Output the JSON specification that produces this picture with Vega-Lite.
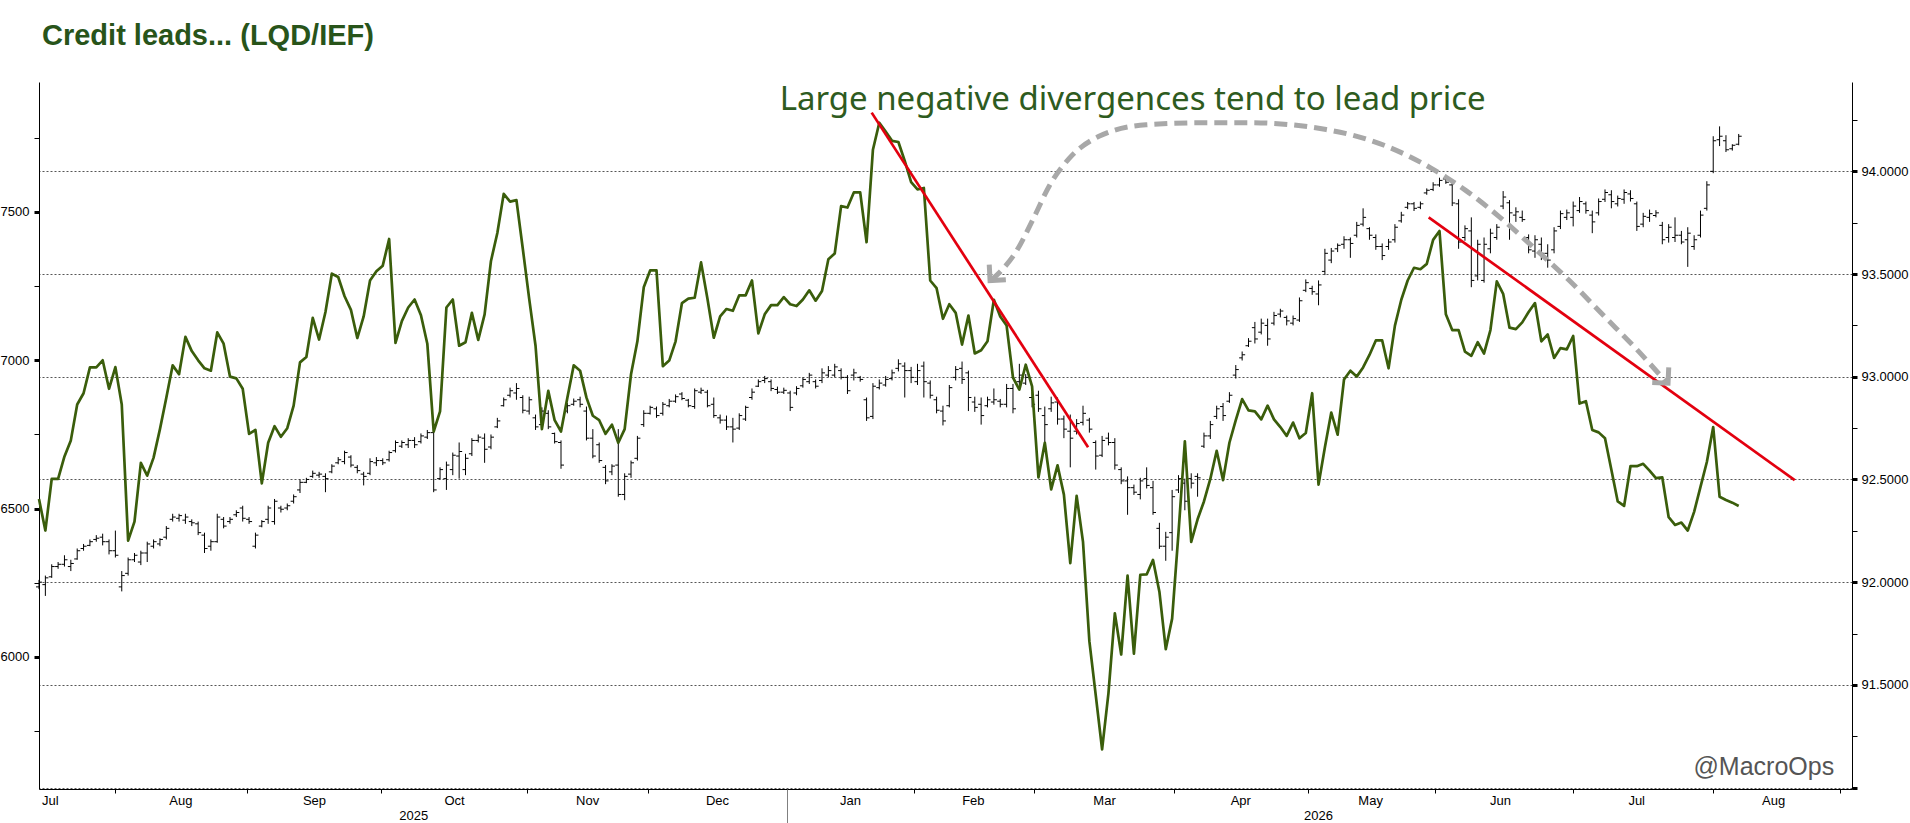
{
  "$schema": "https://vega.github.io/schema/vega-lite/v6.json",
  "autosize": {"type": "none"},
  "width": 1813,
  "height": 707,
  "padding": {"left": 39, "top": 82, "right": 58, "bottom": 34},
  "background": "white",
  "title": {
    "text": "Credit leads... (LQD/IEF)",
    "anchor": "start",
    "frame": "group",
    "font": "Liberation Sans",
    "fontSize": 29,
    "fontWeight": "bold",
    "color": "#28541a",
    "baseline": "alphabetic",
    "offset": 8,
    "dx": 3
  },
  "config": {
    "view": {"stroke": null},
    "axis": {
      "labelFont": "Liberation Sans",
      "labelFontSize": 13,
      "labelColor": "#000000",
      "domainColor": "#000000",
      "tickColor": "#000000",
      "labelOverlap": false
    }
  },
  "datasets": {
    "d": [
      {"t":0,"spx":6532,"o":91.977,"h":92.011,"l":91.966,"c":92.000},
      {"t":1,"spx":6426,"o":91.988,"h":92.032,"l":91.933,"c":92.021},
      {"t":2,"spx":6600,"o":92.026,"h":92.087,"l":92.021,"c":92.076},
      {"t":3,"spx":6600,"o":92.076,"h":92.098,"l":92.065,"c":92.087},
      {"t":4,"spx":6676,"o":92.087,"h":92.131,"l":92.076,"c":92.109},
      {"t":5,"spx":6730,"o":92.076,"h":92.109,"l":92.054,"c":92.091},
      {"t":6,"spx":6851,"o":92.113,"h":92.164,"l":92.109,"c":92.153},
      {"t":7,"spx":6889,"o":92.164,"h":92.186,"l":92.153,"c":92.175},
      {"t":8,"spx":6976,"o":92.179,"h":92.208,"l":92.175,"c":92.197},
      {"t":9,"spx":6976,"o":92.208,"h":92.229,"l":92.197,"c":92.214},
      {"t":10,"spx":7000,"o":92.219,"h":92.236,"l":92.179,"c":92.197},
      {"t":11,"spx":6904,"o":92.197,"h":92.208,"l":92.135,"c":92.153},
      {"t":12,"spx":6977,"o":92.153,"h":92.251,"l":92.120,"c":92.131},
      {"t":13,"spx":6851,"o":91.977,"h":92.054,"l":91.955,"c":92.032},
      {"t":14,"spx":6392,"o":92.043,"h":92.120,"l":92.032,"c":92.109},
      {"t":15,"spx":6456,"o":92.109,"h":92.142,"l":92.098,"c":92.131},
      {"t":16,"spx":6654,"o":92.098,"h":92.153,"l":92.083,"c":92.142},
      {"t":17,"spx":6611,"o":92.142,"h":92.197,"l":92.098,"c":92.186},
      {"t":18,"spx":6672,"o":92.175,"h":92.208,"l":92.164,"c":92.197},
      {"t":19,"spx":6768,"o":92.186,"h":92.214,"l":92.175,"c":92.208},
      {"t":20,"spx":6874,"o":92.219,"h":92.273,"l":92.208,"c":92.262},
      {"t":21,"spx":6983,"o":92.306,"h":92.333,"l":92.295,"c":92.317},
      {"t":22,"spx":6953,"o":92.311,"h":92.333,"l":92.295,"c":92.324},
      {"t":23,"spx":7079,"o":92.302,"h":92.333,"l":92.284,"c":92.317},
      {"t":24,"spx":7031,"o":92.295,"h":92.306,"l":92.273,"c":92.289},
      {"t":25,"spx":7000,"o":92.284,"h":92.295,"l":92.229,"c":92.241},
      {"t":26,"spx":6973,"o":92.229,"h":92.241,"l":92.142,"c":92.164},
      {"t":27,"spx":6965,"o":92.175,"h":92.208,"l":92.153,"c":92.197},
      {"t":28,"spx":7094,"o":92.197,"h":92.333,"l":92.192,"c":92.317},
      {"t":29,"spx":7056,"o":92.306,"h":92.317,"l":92.262,"c":92.273},
      {"t":30,"spx":6945,"o":92.295,"h":92.317,"l":92.284,"c":92.306},
      {"t":31,"spx":6939,"o":92.328,"h":92.350,"l":92.317,"c":92.339},
      {"t":32,"spx":6904,"o":92.361,"h":92.372,"l":92.295,"c":92.311},
      {"t":33,"spx":6752,"o":92.306,"h":92.317,"l":92.284,"c":92.295},
      {"t":34,"spx":6765,"o":92.175,"h":92.241,"l":92.164,"c":92.229},
      {"t":35,"spx":6585,"o":92.273,"h":92.302,"l":92.267,"c":92.295},
      {"t":36,"spx":6722,"o":92.306,"h":92.372,"l":92.284,"c":92.361},
      {"t":37,"spx":6778,"o":92.295,"h":92.405,"l":92.280,"c":92.394},
      {"t":38,"spx":6742,"o":92.361,"h":92.372,"l":92.339,"c":92.355},
      {"t":39,"spx":6771,"o":92.361,"h":92.383,"l":92.350,"c":92.372},
      {"t":40,"spx":6847,"o":92.394,"h":92.427,"l":92.383,"c":92.416},
      {"t":41,"spx":6993,"o":92.449,"h":92.500,"l":92.434,"c":92.486},
      {"t":42,"spx":7011,"o":92.486,"h":92.508,"l":92.482,"c":92.500},
      {"t":43,"spx":7143,"o":92.515,"h":92.543,"l":92.508,"c":92.530},
      {"t":44,"spx":7070,"o":92.521,"h":92.537,"l":92.508,"c":92.526},
      {"t":45,"spx":7163,"o":92.515,"h":92.530,"l":92.438,"c":92.504},
      {"t":46,"spx":7292,"o":92.537,"h":92.574,"l":92.530,"c":92.565},
      {"t":47,"spx":7281,"o":92.581,"h":92.609,"l":92.574,"c":92.596},
      {"t":48,"spx":7216,"o":92.587,"h":92.640,"l":92.574,"c":92.631},
      {"t":49,"spx":7170,"o":92.609,"h":92.618,"l":92.559,"c":92.570},
      {"t":50,"spx":7075,"o":92.559,"h":92.570,"l":92.530,"c":92.543},
      {"t":51,"spx":7148,"o":92.526,"h":92.537,"l":92.471,"c":92.515},
      {"t":52,"spx":7269,"o":92.530,"h":92.603,"l":92.521,"c":92.587},
      {"t":53,"spx":7300,"o":92.581,"h":92.609,"l":92.565,"c":92.592},
      {"t":54,"spx":7319,"o":92.592,"h":92.603,"l":92.570,"c":92.581},
      {"t":55,"spx":7409,"o":92.596,"h":92.640,"l":92.587,"c":92.631},
      {"t":56,"spx":7059,"o":92.640,"h":92.690,"l":92.631,"c":92.680},
      {"t":57,"spx":7132,"o":92.662,"h":92.690,"l":92.653,"c":92.680},
      {"t":58,"spx":7178,"o":92.669,"h":92.701,"l":92.653,"c":92.690},
      {"t":59,"spx":7205,"o":92.690,"h":92.706,"l":92.653,"c":92.669},
      {"t":60,"spx":7152,"o":92.684,"h":92.724,"l":92.675,"c":92.712},
      {"t":61,"spx":7056,"o":92.706,"h":92.741,"l":92.697,"c":92.728},
      {"t":62,"spx":6760,"o":92.728,"h":92.735,"l":92.438,"c":92.449},
      {"t":63,"spx":6828,"o":92.504,"h":92.559,"l":92.500,"c":92.548},
      {"t":64,"spx":7178,"o":92.504,"h":92.587,"l":92.449,"c":92.570},
      {"t":65,"spx":7205,"o":92.548,"h":92.631,"l":92.521,"c":92.618},
      {"t":66,"spx":7049,"o":92.614,"h":92.680,"l":92.504,"c":92.636},
      {"t":67,"spx":7061,"o":92.548,"h":92.625,"l":92.521,"c":92.603},
      {"t":68,"spx":7160,"o":92.625,"h":92.701,"l":92.614,"c":92.690},
      {"t":69,"spx":7069,"o":92.690,"h":92.719,"l":92.680,"c":92.706},
      {"t":70,"spx":7155,"o":92.701,"h":92.724,"l":92.581,"c":92.647},
      {"t":71,"spx":7335,"o":92.658,"h":92.719,"l":92.647,"c":92.706},
      {"t":72,"spx":7429,"o":92.756,"h":92.800,"l":92.750,"c":92.785},
      {"t":73,"spx":7561,"o":92.859,"h":92.899,"l":92.855,"c":92.888},
      {"t":74,"spx":7535,"o":92.910,"h":92.947,"l":92.899,"c":92.932},
      {"t":75,"spx":7540,"o":92.921,"h":92.969,"l":92.888,"c":92.943},
      {"t":76,"spx":7376,"o":92.899,"h":92.910,"l":92.822,"c":92.837},
      {"t":77,"spx":7208,"o":92.833,"h":92.903,"l":92.816,"c":92.888},
      {"t":78,"spx":7049,"o":92.800,"h":92.816,"l":92.741,"c":92.756},
      {"t":79,"spx":6768,"o":92.767,"h":92.851,"l":92.756,"c":92.833},
      {"t":80,"spx":6897,"o":92.822,"h":92.837,"l":92.745,"c":92.756},
      {"t":81,"spx":6798,"o":92.724,"h":92.728,"l":92.675,"c":92.684},
      {"t":82,"spx":6760,"o":92.680,"h":92.690,"l":92.552,"c":92.570},
      {"t":83,"spx":6874,"o":92.833,"h":92.872,"l":92.822,"c":92.859},
      {"t":84,"spx":6983,"o":92.866,"h":92.894,"l":92.859,"c":92.881},
      {"t":85,"spx":6965,"o":92.888,"h":92.903,"l":92.851,"c":92.866},
      {"t":86,"spx":6874,"o":92.833,"h":92.855,"l":92.690,"c":92.701},
      {"t":87,"spx":6813,"o":92.701,"h":92.745,"l":92.603,"c":92.614},
      {"t":88,"spx":6798,"o":92.669,"h":92.680,"l":92.581,"c":92.592},
      {"t":89,"spx":6752,"o":92.559,"h":92.570,"l":92.477,"c":92.493},
      {"t":90,"spx":6783,"o":92.537,"h":92.574,"l":92.521,"c":92.565},
      {"t":91,"spx":6722,"o":92.570,"h":92.745,"l":92.416,"c":92.427},
      {"t":92,"spx":6768,"o":92.427,"h":92.530,"l":92.399,"c":92.515},
      {"t":93,"spx":6953,"o":92.526,"h":92.592,"l":92.508,"c":92.581},
      {"t":94,"spx":7064,"o":92.603,"h":92.712,"l":92.592,"c":92.701},
      {"t":95,"spx":7246,"o":92.767,"h":92.837,"l":92.756,"c":92.822},
      {"t":96,"spx":7303,"o":92.822,"h":92.859,"l":92.816,"c":92.851},
      {"t":97,"spx":7303,"o":92.844,"h":92.855,"l":92.800,"c":92.811},
      {"t":98,"spx":6980,"o":92.822,"h":92.877,"l":92.811,"c":92.866},
      {"t":99,"spx":6999,"o":92.859,"h":92.892,"l":92.851,"c":92.881},
      {"t":100,"spx":7064,"o":92.881,"h":92.914,"l":92.873,"c":92.903},
      {"t":101,"spx":7193,"o":92.916,"h":92.925,"l":92.886,"c":92.894},
      {"t":102,"spx":7208,"o":92.886,"h":92.892,"l":92.851,"c":92.859},
      {"t":103,"spx":7211,"o":92.855,"h":92.943,"l":92.844,"c":92.932},
      {"t":104,"spx":7330,"o":92.925,"h":92.947,"l":92.916,"c":92.934},
      {"t":105,"spx":7208,"o":92.925,"h":92.936,"l":92.851,"c":92.859},
      {"t":106,"spx":7076,"o":92.866,"h":92.899,"l":92.800,"c":92.811},
      {"t":107,"spx":7148,"o":92.800,"h":92.816,"l":92.772,"c":92.789},
      {"t":108,"spx":7173,"o":92.789,"h":92.811,"l":92.741,"c":92.756},
      {"t":109,"spx":7167,"o":92.756,"h":92.800,"l":92.680,"c":92.745},
      {"t":110,"spx":7219,"o":92.750,"h":92.822,"l":92.741,"c":92.811},
      {"t":111,"spx":7219,"o":92.794,"h":92.859,"l":92.785,"c":92.851},
      {"t":112,"spx":7269,"o":92.899,"h":92.943,"l":92.888,"c":92.925},
      {"t":113,"spx":7091,"o":92.954,"h":92.987,"l":92.950,"c":92.976},
      {"t":114,"spx":7155,"o":92.982,"h":93.004,"l":92.969,"c":92.991},
      {"t":115,"spx":7186,"o":92.976,"h":92.987,"l":92.930,"c":92.943},
      {"t":116,"spx":7186,"o":92.938,"h":92.952,"l":92.916,"c":92.925},
      {"t":117,"spx":7213,"o":92.925,"h":92.947,"l":92.916,"c":92.934},
      {"t":118,"spx":7189,"o":92.921,"h":92.932,"l":92.833,"c":92.851},
      {"t":119,"spx":7183,"o":92.921,"h":92.954,"l":92.910,"c":92.943},
      {"t":120,"spx":7205,"o":92.956,"h":92.997,"l":92.947,"c":92.987},
      {"t":121,"spx":7236,"o":92.976,"h":93.019,"l":92.965,"c":93.008},
      {"t":122,"spx":7201,"o":92.976,"h":92.987,"l":92.943,"c":92.954},
      {"t":123,"spx":7234,"o":92.982,"h":93.041,"l":92.969,"c":93.019},
      {"t":124,"spx":7341,"o":93.008,"h":93.052,"l":92.997,"c":93.030},
      {"t":125,"spx":7360,"o":93.008,"h":93.063,"l":92.997,"c":93.048},
      {"t":126,"spx":7520,"o":93.030,"h":93.041,"l":92.987,"c":92.997},
      {"t":127,"spx":7515,"o":92.997,"h":93.008,"l":92.916,"c":92.932},
      {"t":128,"spx":7566,"o":93.008,"h":93.039,"l":92.982,"c":93.019},
      {"t":129,"spx":7566,"o":92.997,"h":93.004,"l":92.976,"c":92.987},
      {"t":130,"spx":7398,"o":92.888,"h":92.899,"l":92.785,"c":92.800},
      {"t":131,"spx":7710,"o":92.807,"h":92.969,"l":92.794,"c":92.954},
      {"t":132,"spx":7801,"o":92.947,"h":92.987,"l":92.938,"c":92.969},
      {"t":133,"spx":7771,"o":92.960,"h":93.004,"l":92.952,"c":92.987},
      {"t":134,"spx":7740,"o":92.991,"h":93.035,"l":92.982,"c":93.019},
      {"t":135,"spx":7736,"o":93.041,"h":93.085,"l":93.026,"c":93.063},
      {"t":136,"spx":7672,"o":93.052,"h":93.070,"l":92.899,"c":93.030},
      {"t":137,"spx":7601,"o":93.030,"h":93.048,"l":92.969,"c":92.997},
      {"t":138,"spx":7576,"o":92.976,"h":93.063,"l":92.960,"c":93.030},
      {"t":139,"spx":7581,"o":93.052,"h":93.074,"l":92.899,"c":92.976},
      {"t":140,"spx":7269,"o":92.969,"h":92.982,"l":92.894,"c":92.910},
      {"t":141,"spx":7243,"o":92.888,"h":92.903,"l":92.822,"c":92.837},
      {"t":142,"spx":7140,"o":92.833,"h":92.859,"l":92.763,"c":92.785},
      {"t":143,"spx":7189,"o":92.859,"h":92.960,"l":92.851,"c":92.947},
      {"t":144,"spx":7160,"o":92.997,"h":93.052,"l":92.982,"c":93.035},
      {"t":145,"spx":7053,"o":93.041,"h":93.074,"l":92.965,"c":92.987},
      {"t":146,"spx":7151,"o":93.019,"h":93.030,"l":92.833,"c":92.899},
      {"t":147,"spx":7023,"o":92.877,"h":92.903,"l":92.829,"c":92.851},
      {"t":148,"spx":7034,"o":92.866,"h":92.899,"l":92.767,"c":92.811},
      {"t":149,"spx":7064,"o":92.859,"h":92.903,"l":92.851,"c":92.888},
      {"t":150,"spx":7204,"o":92.877,"h":92.943,"l":92.864,"c":92.888},
      {"t":151,"spx":7148,"o":92.881,"h":92.892,"l":92.851,"c":92.866},
      {"t":152,"spx":7117,"o":92.866,"h":92.965,"l":92.851,"c":92.943},
      {"t":153,"spx":6942,"o":92.943,"h":92.965,"l":92.822,"c":92.844},
      {"t":154,"spx":6901,"o":92.976,"h":93.063,"l":92.960,"c":93.008},
      {"t":155,"spx":6985,"o":92.969,"h":93.013,"l":92.960,"c":92.997},
      {"t":156,"spx":6912,"o":92.899,"h":92.925,"l":92.851,"c":92.866},
      {"t":157,"spx":6605,"o":92.910,"h":92.932,"l":92.829,"c":92.844},
      {"t":158,"spx":6722,"o":92.811,"h":92.855,"l":92.680,"c":92.767},
      {"t":159,"spx":6565,"o":92.844,"h":92.903,"l":92.829,"c":92.873},
      {"t":160,"spx":6646,"o":92.877,"h":92.899,"l":92.767,"c":92.794},
      {"t":161,"spx":6547,"o":92.794,"h":92.811,"l":92.701,"c":92.745},
      {"t":162,"spx":6316,"o":92.735,"h":92.816,"l":92.559,"c":92.701},
      {"t":163,"spx":6543,"o":92.735,"h":92.794,"l":92.719,"c":92.772},
      {"t":164,"spx":6388,"o":92.778,"h":92.859,"l":92.763,"c":92.822},
      {"t":165,"spx":6053,"o":92.789,"h":92.800,"l":92.728,"c":92.745},
      {"t":166,"spx":5871,"o":92.680,"h":92.690,"l":92.548,"c":92.614},
      {"t":167,"spx":5688,"o":92.618,"h":92.712,"l":92.609,"c":92.690},
      {"t":168,"spx":5878,"o":92.701,"h":92.728,"l":92.666,"c":92.680},
      {"t":169,"spx":6147,"o":92.680,"h":92.701,"l":92.548,"c":92.570},
      {"t":170,"spx":6008,"o":92.548,"h":92.559,"l":92.477,"c":92.493},
      {"t":171,"spx":6274,"o":92.493,"h":92.515,"l":92.328,"c":92.460},
      {"t":172,"spx":6011,"o":92.460,"h":92.475,"l":92.425,"c":92.438},
      {"t":173,"spx":6277,"o":92.427,"h":92.508,"l":92.403,"c":92.493},
      {"t":174,"spx":6278,"o":92.504,"h":92.559,"l":92.456,"c":92.471},
      {"t":175,"spx":6327,"o":92.460,"h":92.493,"l":92.328,"c":92.339},
      {"t":176,"spx":6220,"o":92.262,"h":92.289,"l":92.162,"c":92.175},
      {"t":177,"spx":6026,"o":92.175,"h":92.245,"l":92.104,"c":92.219},
      {"t":178,"spx":6129,"o":92.241,"h":92.449,"l":92.153,"c":92.416},
      {"t":179,"spx":6418,"o":92.449,"h":92.521,"l":92.434,"c":92.504},
      {"t":180,"spx":6727,"o":92.482,"h":92.504,"l":92.350,"c":92.394},
      {"t":181,"spx":6388,"o":92.504,"h":92.530,"l":92.456,"c":92.482},
      {"t":182,"spx":6464,"o":92.515,"h":92.530,"l":92.416,"c":92.508},
      {"t":183,"spx":6524,"o":92.662,"h":92.728,"l":92.653,"c":92.712},
      {"t":184,"spx":6600,"o":92.712,"h":92.785,"l":92.697,"c":92.767},
      {"t":185,"spx":6695,"o":92.807,"h":92.859,"l":92.794,"c":92.844},
      {"t":186,"spx":6596,"o":92.855,"h":92.872,"l":92.785,"c":92.811},
      {"t":187,"spx":6722,"o":92.881,"h":92.925,"l":92.873,"c":92.910},
      {"t":188,"spx":6798,"o":93.008,"h":93.057,"l":92.991,"c":93.035},
      {"t":189,"spx":6869,"o":93.092,"h":93.123,"l":93.079,"c":93.107},
      {"t":190,"spx":6831,"o":93.151,"h":93.188,"l":93.145,"c":93.173},
      {"t":191,"spx":6828,"o":93.239,"h":93.267,"l":93.162,"c":93.184},
      {"t":192,"spx":6801,"o":93.217,"h":93.283,"l":93.206,"c":93.261},
      {"t":193,"spx":6847,"o":93.250,"h":93.283,"l":93.151,"c":93.184},
      {"t":194,"spx":6801,"o":93.261,"h":93.316,"l":93.250,"c":93.298},
      {"t":195,"spx":6775,"o":93.305,"h":93.331,"l":93.289,"c":93.320},
      {"t":196,"spx":6745,"o":93.289,"h":93.298,"l":93.250,"c":93.272},
      {"t":197,"spx":6790,"o":93.261,"h":93.298,"l":93.250,"c":93.283},
      {"t":198,"spx":6737,"o":93.276,"h":93.386,"l":93.267,"c":93.370},
      {"t":199,"spx":6755,"o":93.421,"h":93.474,"l":93.412,"c":93.458},
      {"t":200,"spx":6889,"o":93.430,"h":93.443,"l":93.399,"c":93.414},
      {"t":201,"spx":6581,"o":93.403,"h":93.469,"l":93.348,"c":93.447},
      {"t":202,"spx":6707,"o":93.513,"h":93.623,"l":93.495,"c":93.601},
      {"t":203,"spx":6824,"o":93.568,"h":93.627,"l":93.553,"c":93.612},
      {"t":204,"spx":6749,"o":93.623,"h":93.649,"l":93.607,"c":93.640},
      {"t":205,"spx":6935,"o":93.645,"h":93.684,"l":93.623,"c":93.667},
      {"t":206,"spx":6965,"o":93.667,"h":93.678,"l":93.579,"c":93.649},
      {"t":207,"spx":6945,"o":93.689,"h":93.754,"l":93.678,"c":93.737},
      {"t":208,"spx":6976,"o":93.743,"h":93.820,"l":93.732,"c":93.776},
      {"t":209,"spx":7018,"o":93.721,"h":93.728,"l":93.667,"c":93.689},
      {"t":210,"spx":7067,"o":93.678,"h":93.693,"l":93.618,"c":93.634},
      {"t":211,"spx":7067,"o":93.634,"h":93.649,"l":93.568,"c":93.590},
      {"t":212,"spx":6973,"o":93.634,"h":93.671,"l":93.618,"c":93.656},
      {"t":213,"spx":7117,"o":93.667,"h":93.743,"l":93.653,"c":93.728},
      {"t":214,"spx":7204,"o":93.759,"h":93.803,"l":93.750,"c":93.787},
      {"t":215,"spx":7269,"o":93.825,"h":93.851,"l":93.816,"c":93.842},
      {"t":216,"spx":7312,"o":93.842,"h":93.851,"l":93.807,"c":93.820},
      {"t":217,"spx":7307,"o":93.825,"h":93.853,"l":93.816,"c":93.842},
      {"t":218,"spx":7325,"o":93.895,"h":93.917,"l":93.886,"c":93.908},
      {"t":219,"spx":7406,"o":93.912,"h":93.947,"l":93.904,"c":93.934},
      {"t":220,"spx":7436,"o":93.934,"h":93.969,"l":93.925,"c":93.956},
      {"t":221,"spx":7155,"o":93.963,"h":93.983,"l":93.939,"c":93.947},
      {"t":222,"spx":7102,"o":93.934,"h":93.947,"l":93.831,"c":93.846},
      {"t":223,"spx":7102,"o":93.842,"h":93.864,"l":93.623,"c":93.656},
      {"t":224,"spx":7029,"o":93.678,"h":93.737,"l":93.662,"c":93.721},
      {"t":225,"spx":7015,"o":93.710,"h":93.776,"l":93.436,"c":93.469},
      {"t":226,"spx":7061,"o":93.491,"h":93.667,"l":93.469,"c":93.645},
      {"t":227,"spx":7023,"o":93.469,"h":93.678,"l":93.458,"c":93.645},
      {"t":228,"spx":7102,"o":93.623,"h":93.721,"l":93.601,"c":93.699},
      {"t":229,"spx":7266,"o":93.678,"h":93.743,"l":93.667,"c":93.728},
      {"t":230,"spx":7224,"o":93.831,"h":93.904,"l":93.816,"c":93.875},
      {"t":231,"spx":7110,"o":93.847,"h":93.860,"l":93.667,"c":93.798},
      {"t":232,"spx":7105,"o":93.787,"h":93.825,"l":93.754,"c":93.803},
      {"t":233,"spx":7128,"o":93.776,"h":93.809,"l":93.754,"c":93.765},
      {"t":234,"spx":7163,"o":93.678,"h":93.693,"l":93.601,"c":93.618},
      {"t":235,"spx":7193,"o":93.612,"h":93.689,"l":93.579,"c":93.667},
      {"t":236,"spx":7064,"o":93.645,"h":93.678,"l":93.568,"c":93.601},
      {"t":237,"spx":7087,"o":93.601,"h":93.645,"l":93.531,"c":93.568},
      {"t":238,"spx":7008,"o":93.618,"h":93.728,"l":93.601,"c":93.710},
      {"t":239,"spx":7041,"o":93.732,"h":93.809,"l":93.719,"c":93.794},
      {"t":240,"spx":7037,"o":93.776,"h":93.814,"l":93.763,"c":93.798},
      {"t":241,"spx":7082,"o":93.776,"h":93.853,"l":93.732,"c":93.831},
      {"t":242,"spx":6854,"o":93.809,"h":93.875,"l":93.798,"c":93.853},
      {"t":243,"spx":6862,"o":93.842,"h":93.853,"l":93.794,"c":93.809},
      {"t":244,"spx":6765,"o":93.787,"h":93.809,"l":93.699,"c":93.754},
      {"t":245,"spx":6757,"o":93.798,"h":93.868,"l":93.785,"c":93.853},
      {"t":246,"spx":6737,"o":93.864,"h":93.912,"l":93.851,"c":93.897},
      {"t":247,"spx":6631,"o":93.886,"h":93.908,"l":93.820,"c":93.853},
      {"t":248,"spx":6524,"o":93.842,"h":93.882,"l":93.829,"c":93.868},
      {"t":249,"spx":6509,"o":93.864,"h":93.912,"l":93.842,"c":93.897},
      {"t":250,"spx":6643,"o":93.890,"h":93.908,"l":93.853,"c":93.868},
      {"t":251,"spx":6643,"o":93.842,"h":93.853,"l":93.710,"c":93.732},
      {"t":252,"spx":6651,"o":93.743,"h":93.798,"l":93.728,"c":93.781},
      {"t":253,"spx":6628,"o":93.776,"h":93.814,"l":93.754,"c":93.794},
      {"t":254,"spx":6603,"o":93.785,"h":93.811,"l":93.776,"c":93.798},
      {"t":255,"spx":6605,"o":93.737,"h":93.754,"l":93.645,"c":93.667},
      {"t":256,"spx":6471,"o":93.678,"h":93.743,"l":93.653,"c":93.728},
      {"t":257,"spx":6445,"o":93.678,"h":93.776,"l":93.656,"c":93.689},
      {"t":258,"spx":6453,"o":93.689,"h":93.710,"l":93.645,"c":93.656},
      {"t":259,"spx":6426,"o":93.667,"h":93.728,"l":93.535,"c":93.699},
      {"t":260,"spx":6489,"o":93.634,"h":93.689,"l":93.618,"c":93.667},
      {"t":261,"spx":6573,"o":93.689,"h":93.809,"l":93.678,"c":93.787},
      {"t":262,"spx":6657,"o":93.820,"h":93.952,"l":93.809,"c":93.934},
      {"t":263,"spx":6775,"o":94.000,"h":94.171,"l":93.991,"c":94.149},
      {"t":264,"spx":6540,"o":94.154,"h":94.219,"l":94.123,"c":94.171},
      {"t":265,"spx":6529,"o":94.149,"h":94.176,"l":94.094,"c":94.105},
      {"t":266,"spx":6520,"o":94.110,"h":94.132,"l":94.101,"c":94.127},
      {"t":267,"spx":6509,"o":94.132,"h":94.182,"l":94.127,"c":94.171}
    ]
  },
  "data": {"name": "d"},
  "resolve": {
    "scale": {"y": "independent"},
    "axis": {"x": "independent", "y": "independent"}
  },
  "layer": [
    {
      "encoding": {
        "x": {
          "field": "t",
          "type": "quantitative",
          "scale": {"domain": [0, 284.8], "nice": false, "zero": false},
          "axis": {
            "orient": "bottom",
            "values": [11.9, 32.7, 53.8, 76.7, 95.6, 117.5, 137.5, 156.3, 178.3, 199.3, 219.3, 241.0, 263.0, 282.9],
            "labels": false,
            "tickSize": 4,
            "grid": false,
            "title": null
          }
        }
      },
      "layer": [
        {
          "mark": {"type": "rule", "color": "#000000", "strokeWidth": 1},
          "encoding": {
            "y": {
              "field": "l",
              "type": "quantitative",
              "scale": {"domain": [90.993, 94.435], "nice": false, "zero": false},
              "axis": {
                "orient": "right",
                "values": [91, 91.25, 91.5, 91.75, 92, 92.25, 92.5, 92.75, 93, 93.25, 93.5, 93.75, 94, 94.25],
                "format": ".4f",
                "labelExpr": "datum.value % 0.5 === 0 && datum.value > 91.2 ? datum.label : ''",
                "title": null,
                "grid": true,
                "gridColor": "#444444",
                "gridDash": [2, 2],
                "gridWidth": 1,
                "gridOpacity": {"condition": {"test": "datum.value % 0.5 === 0", "value": 0.9}, "value": 0},
                "tickSize": 5,
                "tickWidth": {"condition": {"test": "datum.value % 0.5 === 0", "value": 3}, "value": 1},
                "labelPadding": 4
              }
            },
            "y2": {"field": "h"}
          }
        },
        {
          "mark": {"type": "tick", "orient": "horizontal", "size": 3, "thickness": 1, "xOffset": -1.5, "color": "#000000", "opacity": 1},
          "encoding": {"y": {"field": "o", "type": "quantitative", "axis": {"title": null}}}
        },
        {
          "mark": {"type": "tick", "orient": "horizontal", "size": 3, "thickness": 1, "xOffset": 1.5, "color": "#000000", "opacity": 1},
          "encoding": {"y": {"field": "c", "type": "quantitative", "axis": {"title": null}}}
        }
      ]
    },
    {
      "encoding": {
        "x": {
          "field": "t",
          "type": "quantitative",
          "scale": {"domain": [0, 284.8], "nice": false, "zero": false},
          "axis": null
        }
      },
      "layer": [
        {
          "mark": {"type": "line", "color": "#3a5d0b", "strokeWidth": 2.7, "strokeJoin": "round"},
          "encoding": {
            "y": {
              "field": "spx",
              "type": "quantitative",
              "scale": {"domain": [5554.6, 7938.3], "nice": false, "zero": false},
              "axis": {
                "orient": "left",
                "values": [5750, 6000, 6250, 6500, 6750, 7000, 7250, 7500, 7750],
                "format": "d",
                "labelExpr": "datum.value % 500 === 0 ? datum.label : ''",
                "title": null,
                "grid": false,
                "tickSize": 5,
                "tickWidth": {"condition": {"test": "datum.value % 500 === 0", "value": 3}, "value": 1},
                "labelPadding": 5
              }
            }
          }
        },
        {
          "data": {"values": [
            {"seg": 1, "t": 130.8, "v": 7835},
            {"seg": 1, "t": 164.8, "v": 6707},
            {"seg": 2, "t": 218.3, "v": 7482},
            {"seg": 2, "t": 275.8, "v": 6596}
          ]},
          "mark": {"type": "line", "color": "#e3000f", "strokeWidth": 2.7},
          "encoding": {
            "y": {"field": "v", "type": "quantitative", "axis": {"title": null}},
            "detail": {"field": "seg", "type": "nominal"}
          }
        },
        {
          "data": {"values": [
            {"t": 149.6, "v": 7270},
            {"t": 151.5, "v": 7310},
            {"t": 153.3, "v": 7360},
            {"t": 156.3, "v": 7482},
            {"t": 158.7, "v": 7588},
            {"t": 161.8, "v": 7680},
            {"t": 166.6, "v": 7756},
            {"t": 173.9, "v": 7794},
            {"t": 183.0, "v": 7801},
            {"t": 190.1, "v": 7801},
            {"t": 202.2, "v": 7778},
            {"t": 211.3, "v": 7725},
            {"t": 218.6, "v": 7649},
            {"t": 224.1, "v": 7573},
            {"t": 229.5, "v": 7482},
            {"t": 235.0, "v": 7376},
            {"t": 240.4, "v": 7269},
            {"t": 245.9, "v": 7148},
            {"t": 250.8, "v": 7041},
            {"t": 255.6, "v": 6927}
          ]},
          "mark": {"type": "line", "color": "#a8a8a8", "strokeWidth": 5, "strokeDash": [13, 7], "interpolate": "monotone"},
          "encoding": {"y": {"field": "v", "type": "quantitative", "axis": {"title": null}}}
        },
        {
          "data": {"values": [{"t": 149.4, "v": 7269}]},
          "mark": {"type": "point", "shape": "M1,-1L0,0L1,1", "size": 500, "filled": false, "stroke": "#a8a8a8", "strokeWidth": 5, "opacity": 1, "angle": 312},
          "encoding": {"y": {"field": "v", "type": "quantitative", "axis": {"title": null}}}
        },
        {
          "data": {"values": [{"t": 255.9, "v": 6923}]},
          "mark": {"type": "point", "shape": "M1,-1L0,0L1,1", "size": 500, "filled": false, "stroke": "#a8a8a8", "strokeWidth": 5, "opacity": 1, "angle": 227.6},
          "encoding": {"y": {"field": "v", "type": "quantitative", "axis": {"title": null}}}
        },
        {
          "data": {"values": [{"t": 171.8, "v": 7844, "txt": "Large negative divergences tend to lead price"}]},
          "mark": {"type": "text", "font": "Noto Sans", "fontSize": 33, "color": "#2e5b20", "align": "center", "baseline": "alphabetic"},
          "encoding": {
            "y": {"field": "v", "type": "quantitative", "axis": {"title": null}},
            "text": {"field": "txt", "type": "nominal"}
          }
        },
        {
          "data": {"values": [{"t": 282.0, "v": 5602, "txt": "@MacroOps"}]},
          "mark": {"type": "text", "font": "Liberation Sans", "fontSize": 25, "color": "#555555", "align": "right", "baseline": "alphabetic"},
          "encoding": {
            "y": {"field": "v", "type": "quantitative", "axis": {"title": null}},
            "text": {"field": "txt", "type": "nominal"}
          }
        }
      ]
    },
    {
      "data": {"values": [{}]},
      "mark": {"type": "point", "opacity": 0},
      "encoding": {
        "x": {
          "datum": 0,
          "type": "quantitative",
          "axis": {
            "orient": "bottom",
            "values": [1.7, 22.2, 43.2, 65.2, 86.1, 106.5, 127.4, 146.7, 167.3, 188.7, 209.1, 229.5, 250.9, 272.4],
            "labelExpr": "['Jul','Aug','Sep','Oct','Nov','Dec','Jan','Feb','Mar','Apr','May','Jun','Jul','Aug'][indexof([1.7, 22.2, 43.2, 65.2, 86.1, 106.5, 127.4, 146.7, 167.3, 188.7, 209.1, 229.5, 250.9, 272.4], datum.value)]",
            "ticks": false,
            "domain": false,
            "grid": false,
            "labelBaseline": "top",
            "labelPadding": 5,
            "title": null
          }
        }
      }
    },
    {
      "data": {"values": [{}]},
      "mark": {"type": "point", "opacity": 0},
      "encoding": {
        "x": {
          "datum": 0,
          "type": "quantitative",
          "axis": {
            "orient": "bottom",
            "values": [58.8, 200.9],
            "labelExpr": "datum.value < 100 ? '2025' : '2026'",
            "ticks": false,
            "domain": false,
            "grid": false,
            "labelBaseline": "top",
            "labelPadding": 20,
            "title": null
          }
        }
      }
    },
    {
      "data": {"values": [{}]},
      "mark": {"type": "point", "opacity": 0},
      "encoding": {
        "x": {
          "datum": 0,
          "type": "quantitative",
          "axis": {
            "orient": "bottom",
            "values": [117.5],
            "labels": false,
            "tickSize": 34,
            "tickColor": "#808080",
            "domain": false,
            "grid": false,
            "title": null
          }
        }
      }
    }
  ]
}
